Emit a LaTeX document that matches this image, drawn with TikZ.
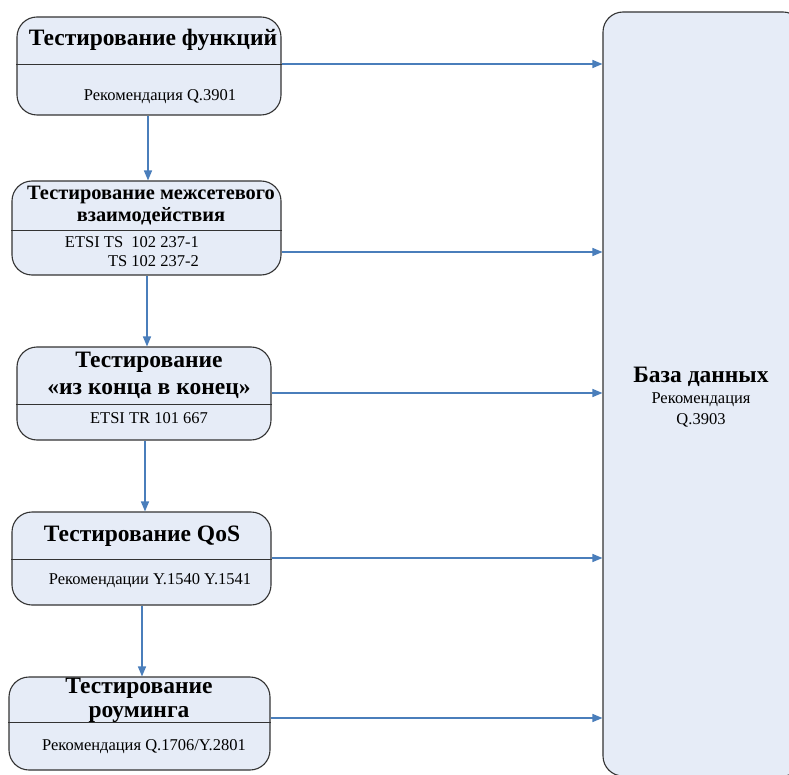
\documentclass[tikz,border=0pt]{standalone}
\usepackage{fontspec}
\setmainfont{Liberation Serif}
\usepackage{tikz}
\usepackage{xcolor}
\usetikzlibrary{calc}
\usetikzlibrary{positioning, arrows.meta}

\definecolor{boxfill}{HTML}{E6ECF7}
\definecolor{flowblue}{HTML}{4A7EBB}
\definecolor{boxline}{HTML}{333333}

\begin{document}
\begin{tikzpicture}[x=1pt,y=-1pt]
                % Define the styles for the boxes, texts and arrows
                \tikzstyle{testbox}=[draw=boxline, line width=1.1pt, fill=boxfill, rounded corners=20pt, inner sep=0pt];
                \tikzstyle{headtext}=[font=\fontsize{23.5}{26}\selectfont\bfseries, align=center, inner sep=0pt];
                \tikzstyle{subtext}=[font=\fontsize{16.5}{19}\selectfont, align=center, inner sep=0pt];
                \tikzstyle{flow}=[draw=flowblue, line width=1.4pt, -{Triangle[length=10pt,width=8pt]}, color=flowblue];

                \useasboundingbox (0,0) rectangle (789,775);

                % Draw the database box on the right
                \node[testbox, minimum width=200pt, minimum height=764pt] (db) at (703,394) {};
                \node[headtext] (dbtitle) at (701,377) {База данных};
                \node[subtext, font=\fontsize{16.5}{21}\selectfont] (dbsub) at (701,410) {Рекомендация\\Q.3903};

                % Draw the five testing boxes
                \node[testbox, minimum width=264pt, minimum height=98pt] (func) at (149,66) {};
                \node[testbox, minimum width=269pt, minimum height=94pt] (inter) at (146.5,228) {};
                \node[testbox, minimum width=254pt, minimum height=93pt] (e2e) at (144,393.5) {};
                \node[testbox, minimum width=259pt, minimum height=93pt] (qos) at (141.5,558.5) {};
                \node[testbox, minimum width=261pt, minimum height=93pt] (roam) at (139.5,723.5) {};

                % Draw the dividing lines
                \draw[boxline, line width=0.9pt] (func.west |- 0,64) -- (func.east |- 0,64);
                \draw[boxline, line width=0.9pt] (inter.west |- 0,230) -- (inter.east |- 0,230);
                \draw[boxline, line width=0.9pt] (e2e.west |- 0,404) -- (e2e.east |- 0,404);
                \draw[boxline, line width=0.9pt] (qos.west |- 0,559) -- (qos.east |- 0,559);
                \draw[boxline, line width=0.9pt] (roam.west |- 0,722) -- (roam.east |- 0,722);

                % Label the boxes
                \node[headtext] (functitle) at (153,40) {Тестирование функций};
                \node[subtext] (funcsub) at (160,97) {Рекомендация Q.3901};
                \node[headtext, font=\fontsize{20.4}{22}\selectfont\bfseries] (intertitle) at (151,206) {Тестирование межсетевого\\взаимодействия};
                \node[subtext, align=right, anchor=east] (intersub) at (199,252) {ETSI TS\ \ 102 237-1\\TS 102 237-2};
                \node[headtext, font=\fontsize{23.5}{27}\selectfont\bfseries] (e2etitle) at (149,375) {Тестирование\\«из конца в конец»};
                \node[subtext] (e2esub) at (149,418) {ETSI TR 101 667};
                \node[headtext] (qostitle) at (142,536) {Тестирование QoS};
                \node[subtext] (qossub) at (150,581) {Рекомендации Y.1540 Y.1541};
                \node[headtext, font=\fontsize{23.5}{24}\selectfont\bfseries] (roamtitle) at (139,700) {Тестирование\\роуминга};
                \node[subtext] (roamsub) at (144,747) {Рекомендация Q.1706/Y.2801};

                % Arrows down the chain of testing
                \draw[flow] (func.south -| 148,0) -- (inter.north -| 148,0);
                \draw[flow] (inter.south -| 147,0) -- (e2e.north -| 147,0);
                \draw[flow] (e2e.south -| 145,0) -- (qos.north -| 145,0);
                \draw[flow] (qos.south -| 142,0) -- (roam.north -| 142,0);

                % Arrows into the database
                \draw[flow] (func.east |- 0,64) -- (db.west |- 0,64);
                \draw[flow] (inter.east |- 0,252) -- (db.west |- 0,252);
                \draw[flow] (e2e.east |- 0,393) -- (db.west |- 0,393);
                \draw[flow] (qos.east |- 0,558) -- (db.west |- 0,558);
                \draw[flow] (roam.east |- 0,718) -- (db.west |- 0,718);
            \end{tikzpicture}
\end{document}
